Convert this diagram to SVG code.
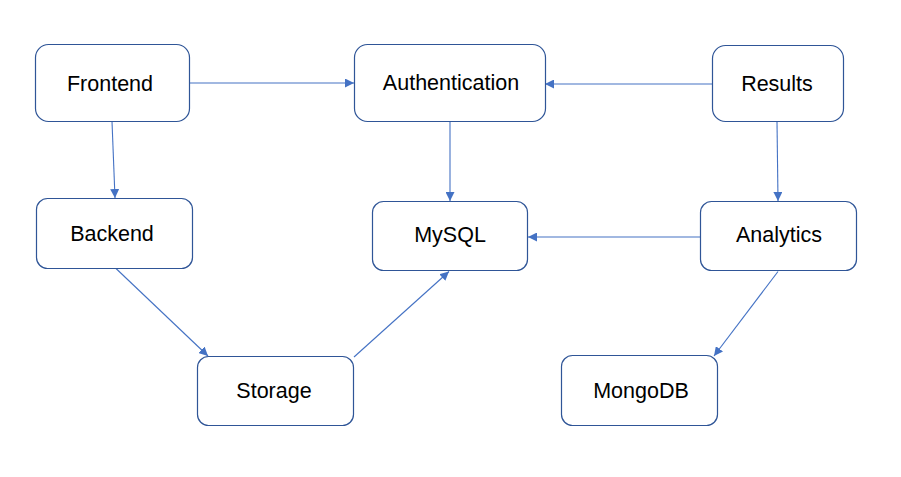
<svg xmlns="http://www.w3.org/2000/svg" width="901" height="477" viewBox="0 0 901 477">
<defs>
<marker id="arr" viewBox="0 0 10 10" refX="10" refY="5" markerWidth="9" markerHeight="9" markerUnits="userSpaceOnUse" orient="auto">
<path d="M0,0 L10,5 L0,10 z" fill="#4472C4"/>
</marker>
<style>
.node rect{fill:#fff;stroke:#2F5597;stroke-width:1.2}
.node text{font-family:"Liberation Sans",Arial,sans-serif;font-size:21.5px;fill:#000;text-anchor:middle}
.edge{stroke:#4472C4;stroke-width:1.1;fill:none;marker-end:url(#arr)}
</style>
</defs>
<rect width="901" height="477" fill="#fff"/>
<g id="connectors">
<line class="edge" x1="190" y1="83" x2="354" y2="83"/>
<line class="edge" x1="712" y1="84" x2="545" y2="84"/>
<line class="edge" x1="112" y1="121.5" x2="115" y2="198"/>
<line class="edge" x1="450" y1="121.5" x2="450" y2="201"/>
<line class="edge" x1="777" y1="121.5" x2="778" y2="201"/>
<line class="edge" x1="700" y1="237" x2="528" y2="237"/>
<line class="edge" x1="116" y1="268.5" x2="208" y2="356"/>
<line class="edge" x1="354" y1="357" x2="449" y2="271.5"/>
<line class="edge" x1="778" y1="271.5" x2="714" y2="356"/>
</g>
<g id="frontend" class="node"><rect x="35.5" y="44.5" width="154" height="77" rx="13"/><text x="110" y="90.5">Frontend</text></g>
<g id="authentication" class="node"><rect x="354.5" y="44.5" width="191" height="77" rx="13"/><text x="451" y="89.5">Authentication</text></g>
<g id="results" class="node"><rect x="712.5" y="45.5" width="131" height="76" rx="13"/><text x="777" y="90.5">Results</text></g>
<g id="backend" class="node"><rect x="36.5" y="198.5" width="156" height="70" rx="11"/><text x="112" y="240.5">Backend</text></g>
<g id="mysql" class="node"><rect x="372.5" y="201.5" width="155" height="69" rx="11"/><text x="450" y="241.5">MySQL</text></g>
<g id="analytics" class="node"><rect x="700.5" y="201.5" width="156" height="69" rx="11"/><text x="779" y="241.5">Analytics</text></g>
<g id="storage" class="node"><rect x="197.5" y="356.5" width="156" height="69" rx="11"/><text x="274" y="397.5">Storage</text></g>
<g id="mongodb" class="node"><rect x="561.5" y="355.5" width="156" height="70" rx="11"/><text x="641" y="397.5">MongoDB</text></g>
</svg>
